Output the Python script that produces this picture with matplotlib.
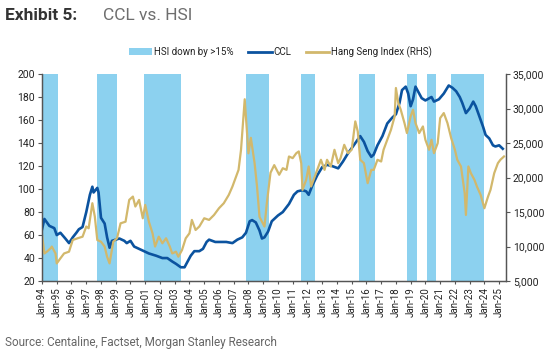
import matplotlib
matplotlib.use("Agg")
import matplotlib.pyplot as plt
import matplotlib.dates as mdates
from matplotlib.patches import Patch
from matplotlib.lines import Line2D
from matplotlib.ticker import FuncFormatter
import pandas as pd

# ---------------- data ----------------
ccl_dates = ["1994-01","1994-03","1994-07","1994-11","1995-01","1995-04","1995-08","1995-11",
             "1996-02","1996-05","1996-07","1996-10","1997-01","1997-04","1997-06","1997-07",
             "1997-10","1997-11","1998-01","1998-04","1998-06","1998-08","1998-10","1999-01",
             "1999-04","1999-08","1999-10","2000-01","2000-04","2000-08","2000-12","2001-04",
             "2001-10","2002-03","2002-07","2002-11","2003-02","2003-06","2003-09","2003-11",
             "2004-02","2004-05","2004-09","2004-12","2005-03","2005-05","2005-10","2006-07",
             "2006-12","2007-04","2007-08","2007-11","2008-02","2008-04","2008-07","2008-10",
             "2008-12","2009-02","2009-05","2009-08","2010-01","2010-05","2010-10","2011-02",
             "2011-05","2011-09","2011-12","2012-02","2012-05","2012-09","2013-01","2013-05",
             "2013-09","2014-02","2014-06","2014-10","2015-02","2015-06","2015-08","2015-11",
             "2016-02","2016-05","2016-07","2016-10","2017-02","2017-06","2017-10","2018-01",
             "2018-04","2018-06","2018-09","2018-11","2019-01","2019-03","2019-05","2019-08",
             "2019-10","2020-01","2020-06","2020-08","2020-12","2021-04","2021-08","2021-11",
             "2022-02","2022-05","2022-07","2022-10","2023-01","2023-04","2023-06","2023-09",
             "2023-12","2024-02","2024-05","2024-08","2024-10","2025-01","2025-04"]
ccl_values = [65, 74, 68, 66, 60, 62, 57, 53,
              58, 62, 65, 67, 80, 95, 102, 97,
              101, 97, 75, 70, 58, 49, 55, 56,
              57, 55, 53, 55, 50, 48, 46, 44,
              42, 40, 40, 37, 35, 32, 32, 36,
              42, 46, 46, 48, 54, 56, 54, 54,
              53, 56, 58, 62, 72, 73, 71, 64,
              57, 58, 63, 72, 77, 80, 87, 95,
              98, 99, 98, 95, 103, 112, 119, 121,
              120, 118, 124, 131, 137, 143, 146, 141,
              133, 128, 130, 138, 146, 157, 162, 165,
              175, 186, 189, 183, 172, 178, 189, 183,
              179, 177, 180, 176, 178, 183, 190, 188,
              185, 180, 175, 166, 170, 176, 172, 163,
              154, 147, 144, 138, 137, 138, 135]

hsi_dates = ["1994-01","1994-03","1994-05","1994-08","1994-09","1994-12","1995-01","1995-04",
             "1995-07","1995-11","1996-02","1996-06","1996-10","1997-01","1997-03","1997-06",
             "1997-08","1997-10","1998-01","1998-04","1998-06","1998-08","1998-11","1999-02",
             "1999-05","1999-09","1999-12","2000-03","2000-05","2000-08","2000-11","2001-01",
             "2001-04","2001-07","2001-09","2001-12","2002-03","2002-06","2002-09","2002-11",
             "2003-02","2003-04","2003-07","2003-10","2004-01","2004-03","2004-06","2004-09",
             "2005-01","2005-05","2005-09","2006-01","2006-05","2006-09","2006-12","2007-03",
             "2007-05","2007-07","2007-10","2008-01","2008-03","2008-06","2008-08","2008-10",
             "2009-02","2009-04","2009-07","2009-10","2010-02","2010-05","2010-08","2010-10",
             "2011-01","2011-04","2011-06","2011-08","2011-09","2011-12","2012-02","2012-04",
             "2012-06","2012-09","2012-12","2013-03","2013-05","2013-08","2013-11","2014-02",
             "2014-04","2014-07","2014-10","2015-01","2015-04","2015-06","2015-08","2015-11",
             "2016-02","2016-05","2016-07","2016-10","2017-01","2017-03","2017-06","2017-09",
             "2017-12","2018-01","2018-03","2018-05","2018-08","2018-10","2019-01","2019-03",
             "2019-05","2019-08","2019-11","2020-01","2020-04","2020-06","2020-08","2020-11",
             "2021-01","2021-04","2021-07","2021-10","2022-01","2022-03","2022-06","2022-09",
             "2022-10","2022-12","2023-02","2023-05","2023-07","2023-10","2024-01","2024-04",
             "2024-06","2024-09","2024-12","2025-02","2025-05"]
hsi_values = [11700, 9000, 9260, 9740, 10000, 9000, 7560, 8290,
              9000, 9260, 10950, 11200, 11430, 12900, 12650, 16280,
              14340, 10950, 10700, 10000, 8530, 7560, 10700, 11200,
              13370, 13600, 16760, 17240, 15800, 16760, 14100, 16030,
              13600, 11920, 10000, 11430, 10470, 11200, 10000, 9000,
              9260, 8530, 9500, 11200, 11920, 13860, 12400, 12900,
              14100, 13860, 14580, 15550, 16280, 17480, 18700, 20150,
              21110, 24000, 31340, 23500, 25750, 22100, 18700, 14300,
              12900, 16300, 20700, 21800, 20400, 21350, 21110, 23050,
              22810, 23530, 23780, 22080, 18210, 19660, 21600, 18700,
              19660, 21110, 22570, 21110, 22570, 21600, 24020, 22080,
              22810, 24740, 23530, 24020, 28130, 26680, 22570, 22080,
              19180, 21110, 21110, 22570, 22320, 24020, 25470, 26920,
              28860, 32970, 30790, 29820, 27890, 26440, 28860, 29820,
              27890, 26440, 27400, 25470, 24020, 25470, 23530, 24980,
              28610, 29340, 27890, 25710, 24020, 22570, 21600, 17730,
              14580, 21600, 20630, 19660, 18700, 17480, 15550, 17240,
              18210, 20630, 22080, 22570, 23050]

band_starts = ["1994-01","1997-10","2000-12","2007-11","2011-08","2015-07","2018-10","2020-02","2021-10"]
band_ends   = ["1995-02","1999-02","2003-06","2009-06","2012-07","2016-08","2019-06","2020-10","2024-01"]

left_ticks = [20, 40, 60, 80, 100, 120, 140, 160, 180, 200]
right_ticks = [5000, 10000, 15000, 20000, 25000, 30000, 35000]

# ---------------- style ----------------
BLUE = "#0B539F"
GOLD = "#D2B86C"
BAND = "#8CD1EF"
AXC = "#555555"
TXT = "#222222"
plt.rcParams['font.family'] = ['Roboto', 'DejaVu Sans']

fig = plt.figure(figsize=(5.5, 3.54), dpi=100)
ax = fig.add_axes([0.0764, 0.206, 0.8436, 0.585])
ax2 = ax.twinx()

for s, e in zip(band_starts, band_ends):
    ax.axvspan(pd.Timestamp(s), pd.Timestamp(e), color=BAND, lw=0, zorder=0)

ccl_x = pd.to_datetime(ccl_dates)
hsi_x = pd.to_datetime(hsi_dates)
ax.plot(ccl_x, ccl_values, color=BLUE, lw=1.9, zorder=3)
ax2.plot(hsi_x, hsi_values, color=GOLD, lw=1.6, zorder=2)

ax.set_xlim(pd.Timestamp("1994-01-01"), pd.Timestamp("2025-06-20"))
ax.set_ylim(20, 200)
ax2.set_ylim(5000, 35000)
ax.set_yticks(left_ticks)
ax2.set_yticks(right_ticks)
ax2.yaxis.set_major_formatter(FuncFormatter(lambda v, p: f"{int(v):,}"))

ax.xaxis.set_major_locator(mdates.YearLocator(1, month=1, day=1))
ax.xaxis.set_major_formatter(mdates.DateFormatter('%b-%y'))
ax.tick_params(axis='x', labelrotation=90, labelsize=7, colors=AXC, labelcolor=TXT, length=2.5, width=0.8, pad=2)
ax.tick_params(axis='y', labelsize=7.5, colors=AXC, labelcolor=TXT, length=3, width=0.8, pad=2)
ax2.tick_params(axis='y', labelsize=7.5, colors=AXC, labelcolor=TXT, length=3, width=0.8, pad=2)

for a in (ax, ax2):
    a.spines['top'].set_visible(False)
    for sp in ('left', 'right', 'bottom'):
        a.spines[sp].set_color(AXC)
        a.spines[sp].set_linewidth(0.9)

# title
fig.text(0.009, 0.955, "Exhibit 5:", fontsize=12.5, fontweight='bold', color="#333333", va='center')
fig.text(0.187, 0.955, "CCL vs. HSI", fontsize=12.5, color="#6e6e6e", va='center')

# legend
handles = [Patch(facecolor=BAND, edgecolor='none'),
           Line2D([0], [0], color=BLUE, lw=2),
           Line2D([0], [0], color=GOLD, lw=2)]
labels = ["HSI down by >15%", "CCL", "Hang Seng Index (RHS)"]
fig.legend(handles, labels, loc='center', bbox_to_anchor=(0.51, 0.853), ncol=3, frameon=False,
           fontsize=7, handlelength=2.4, handleheight=0.7, columnspacing=1.5, handletextpad=0.2,
           labelcolor=TXT)

# source
fig.text(0.009, 0.032, "Source: Centaline, Factset, Morgan Stanley Research", fontsize=8.5,
         color="#666666", va='center')

fig.savefig("out.png", dpi=100)
